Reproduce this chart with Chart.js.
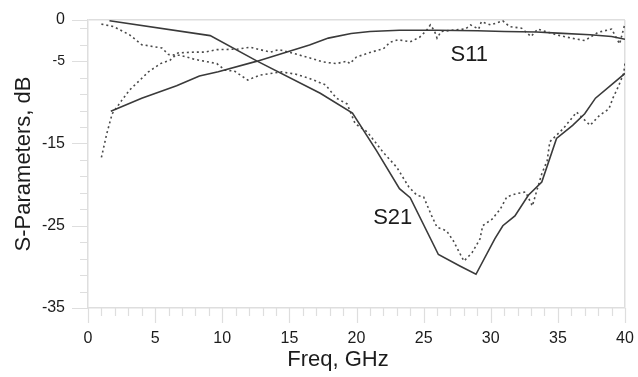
<!DOCTYPE html>
<html>
<head>
<meta charset="utf-8">
<style>
  html, body { margin: 0; padding: 0; background: #fff; }
  #wrap { width: 638px; height: 377px; }
</style>
<script src="https://cdn.jsdelivr.net/npm/chart.js@4.4.1/dist/chart.umd.min.js"></script>
</head>
<body>
<div id="wrap"><canvas id="c" width="638" height="377"></canvas></div>
<script>
// S11 (reflection) — solid trace
const s11SolidFreq = [1.7, 4, 6.6, 8.3, 9.7, 12.6, 16.5, 17.9, 19.6, 21, 23.2, 26, 29, 31, 33.4, 35, 37.4, 39, 40];
const s11SolidDb   = [-11.1, -9.5, -8, -6.8, -6.3, -5.0, -3.05, -2.2, -1.65, -1.4, -1.25, -1.25, -1.3, -1.4, -1.45, -1.6, -1.8, -2.0, -2.35];

// S11 — dotted trace
const s11DotFreq = [1.0, 1.4, 1.8, 2.5, 3.1, 4, 4.5, 5.4, 6.1, 6.7, 8, 8.7, 9.6, 11.1, 12.1, 12.8, 13.6, 14.2, 15.4, 16.5, 17.5, 18.5, 19.3, 19.5, 20, 21.1, 22, 22.5, 23.1, 24, 24.7, 25.2, 25.5, 25.8, 26, 26.3, 27.6, 28.1, 28.5, 29.1, 29.3, 30, 30.9, 31.4, 32.3, 33, 33.5, 34.9, 36, 37, 38, 39, 39.6, 40];
const s11DotDb   = [-16.7, -13.8, -11.4, -9.8, -8.5, -7.1, -6.3, -5.3, -4.9, -4.0, -3.9, -3.9, -3.6, -3.55, -3.3, -3.6, -3.9, -3.6, -4.1, -4.6, -5.1, -5.3, -5.0, -5.3, -4.5, -3.9, -3.5, -2.7, -2.4, -2.65, -2.1, -1.3, -0.6, -1.3, -2.2, -1.4, -1.15, -1.1, -0.6, -1.1, -0.2, -0.6, -0.1, -0.8, -1.0, -2.0, -1.1, -1.8, -2.2, -2.5, -1.5, -1.1, -2.9, -0.4];

// S21 (transmission) — solid trace
const s21SolidFreq = [1.6, 9.1, 12.6, 17.3, 19.7, 21.5, 23.2, 24, 26.1, 27.7, 28.9, 30.3, 30.9, 31.8, 32.8, 33.8, 34.9, 36.1, 37, 37.8, 40];
const s21SolidDb   = [-0.1, -1.9, -5.0, -8.9, -11.3, -15.9, -20.5, -21.6, -28.5, -29.9, -30.9, -26.6, -25, -23.8, -21.3, -19.7, -14.4, -12.8, -11.4, -9.5, -6.5];

// S21 — dotted trace
const s21DotFreq = [1.0, 1.9, 3.1, 4, 5.5, 6, 6.9, 8, 9.6, 10.2, 10.9, 11.9, 12.8, 14.4, 15.5, 16.5, 17.7, 18.5, 19.3, 19.9, 20.8, 22, 23, 23.9, 24.5, 25, 25.6, 26, 26.7, 27.2, 28, 28.6, 29.2, 29.4, 30.1, 30.7, 31.2, 31.9, 32.6, 33.1, 33.4, 33.8, 34.2, 34.4, 35.4, 36.4, 37.4, 38.1, 38.8, 39.1, 39.5, 39.9, 40];
const s21DotDb   = [-0.5, -0.8, -1.8, -3.0, -3.4, -4.2, -4.3, -4.8, -5.3, -6.1, -6.2, -7.3, -6.7, -6.3, -6.6, -7.1, -7.9, -9.5, -10.2, -12.6, -13.6, -16.1, -17.9, -20.3, -21.3, -21.5, -23.8, -25.2, -25.6, -26.8, -29.3, -28.3, -26.6, -25.0, -24.2, -23.0, -21.5, -21.1, -20.9, -22.6, -20.9, -18.7, -17.1, -14.8, -13.2, -11.2, -12.8, -11.6, -10.8, -9.5, -8.1, -6.5, -5.3];

// Axis ticks
const freqTicks  = Array.from({ length: 41 }, (_, i) => i);          // minor tick every 1 GHz
const freqLabels = [0, 5, 10, 15, 20, 25, 30, 35, 40];
const dbTicks    = [-35, -33, -31, -29, -27, -25, -23, -21, -19, -17, -15, -13, -11, -9, -7, -5, -3, -1, 0];
const dbLabels   = [0, -5, -15, -25, -35];

// Curve annotations
const curveNames  = ['S11', 'S21'];
const curveNameAt = [[28.4, -4.27], [22.7, -24.1]];

const FONT = '"Liberation Sans", Arial, Helvetica, sans-serif';
const AXIS_GRAY = '#dedede';

const pts = (xs, ys) => xs.map((x, i) => ({ x, y: ys[i] }));

const solid = (data) => ({
  data, borderColor: '#3a3a3a', borderWidth: 1.6, pointRadius: 0, tension: 0, fill: false
});
const dotted = (data) => ({
  data, borderColor: '#4a4a4a', borderWidth: 1.6, borderDash: [2, 3], pointRadius: 0, tension: 0, fill: false
});

// Tick marks (long at labelled values, short elsewhere), axis titles and curve names
const decor = {
  id: 'decor',
  afterDraw(chart) {
    const { ctx, chartArea: a, scales: { x, y } } = chart;
    ctx.save();
    ctx.strokeStyle = AXIS_GRAY;
    ctx.lineWidth = 1.2;
    ctx.beginPath();
    freqTicks.forEach(v => {
      const px = Math.round(x.getPixelForValue(v)) + 0.5;
      const len = freqLabels.includes(v) ? 15 : 8;
      ctx.moveTo(px, a.bottom);
      ctx.lineTo(px, a.bottom + len);
    });
    dbTicks.forEach(v => {
      const py = Math.round(y.getPixelForValue(v)) + 0.5;
      const len = dbLabels.includes(v) ? 16 : 8;
      ctx.moveTo(a.left, py);
      ctx.lineTo(a.left - len, py);
    });
    ctx.stroke();

    ctx.fillStyle = '#1c1c1c';
    ctx.font = '22px ' + FONT;
    ctx.textAlign = 'center';
    ctx.textBaseline = 'middle';
    ctx.fillText('Freq, GHz', 338, 360);
    ctx.save();
    ctx.translate(24, (a.top + a.bottom) / 2);
    ctx.rotate(-Math.PI / 2);
    ctx.fillText('S-Parameters, dB', 0, 0);
    ctx.restore();

    curveNames.forEach((name, i) => {
      const [fx, fy] = curveNameAt[i];
      ctx.fillText(name, x.getPixelForValue(fx), y.getPixelForValue(fy));
    });
    ctx.restore();
  }
};

new Chart(document.getElementById('c'), {
  type: 'line',
  data: {
    datasets: [
      solid(pts(s11SolidFreq, s11SolidDb)),
      dotted(pts(s11DotFreq, s11DotDb)),
      solid(pts(s21SolidFreq, s21SolidDb)),
      dotted(pts(s21DotFreq, s21DotDb))
    ]
  },
  options: {
    responsive: false,
    animation: false,
    events: [],
    layout: { padding: { left: 0, right: 13, top: 20, bottom: 0 } },
    plugins: { legend: { display: false }, tooltip: { enabled: false } },
    scales: {
      x: {
        type: 'linear',
        min: 0, max: 40,
        afterBuildTicks: s => { s.ticks = freqTicks.map(v => ({ value: v })); },
        afterFit: s => { s.height = 69; s.paddingLeft = 0; s.paddingRight = 0; },
        border: { display: true, color: AXIS_GRAY, width: 1.5 },
        grid: {
          drawTicks: false,
          lineWidth: 1.5,
          color: c => (c.tick && c.tick.value === 40 ? AXIS_GRAY : 'rgba(0,0,0,0)')
        },
        ticks: {
          autoSkip: false,
          maxRotation: 0,
          padding: 21,
          color: '#1c1c1c',
          font: { family: FONT, size: 16 },
          callback: v => (freqLabels.includes(v) ? String(v) : '')
        }
      },
      y: {
        type: 'linear',
        min: -35, max: 0,
        afterBuildTicks: s => { s.ticks = dbTicks.map(v => ({ value: v })); },
        afterFit: s => { s.width = 88; s.paddingTop = 0; s.paddingBottom = 0; },
        border: { display: true, color: AXIS_GRAY, width: 1.5 },
        grid: {
          drawTicks: false,
          lineWidth: 1.5,
          color: c => (c.tick && c.tick.value === 0 ? AXIS_GRAY : 'rgba(0,0,0,0)')
        },
        ticks: {
          autoSkip: false,
          padding: 23,
          color: '#1c1c1c',
          font: c => ({ family: FONT, size: c.tick && c.tick.value === -5 ? 14 : 16 }),
          callback: v => (dbLabels.includes(v) ? String(v) : '')
        }
      }
    }
  },
  plugins: [decor]
});
</script>
</body>
</html>
